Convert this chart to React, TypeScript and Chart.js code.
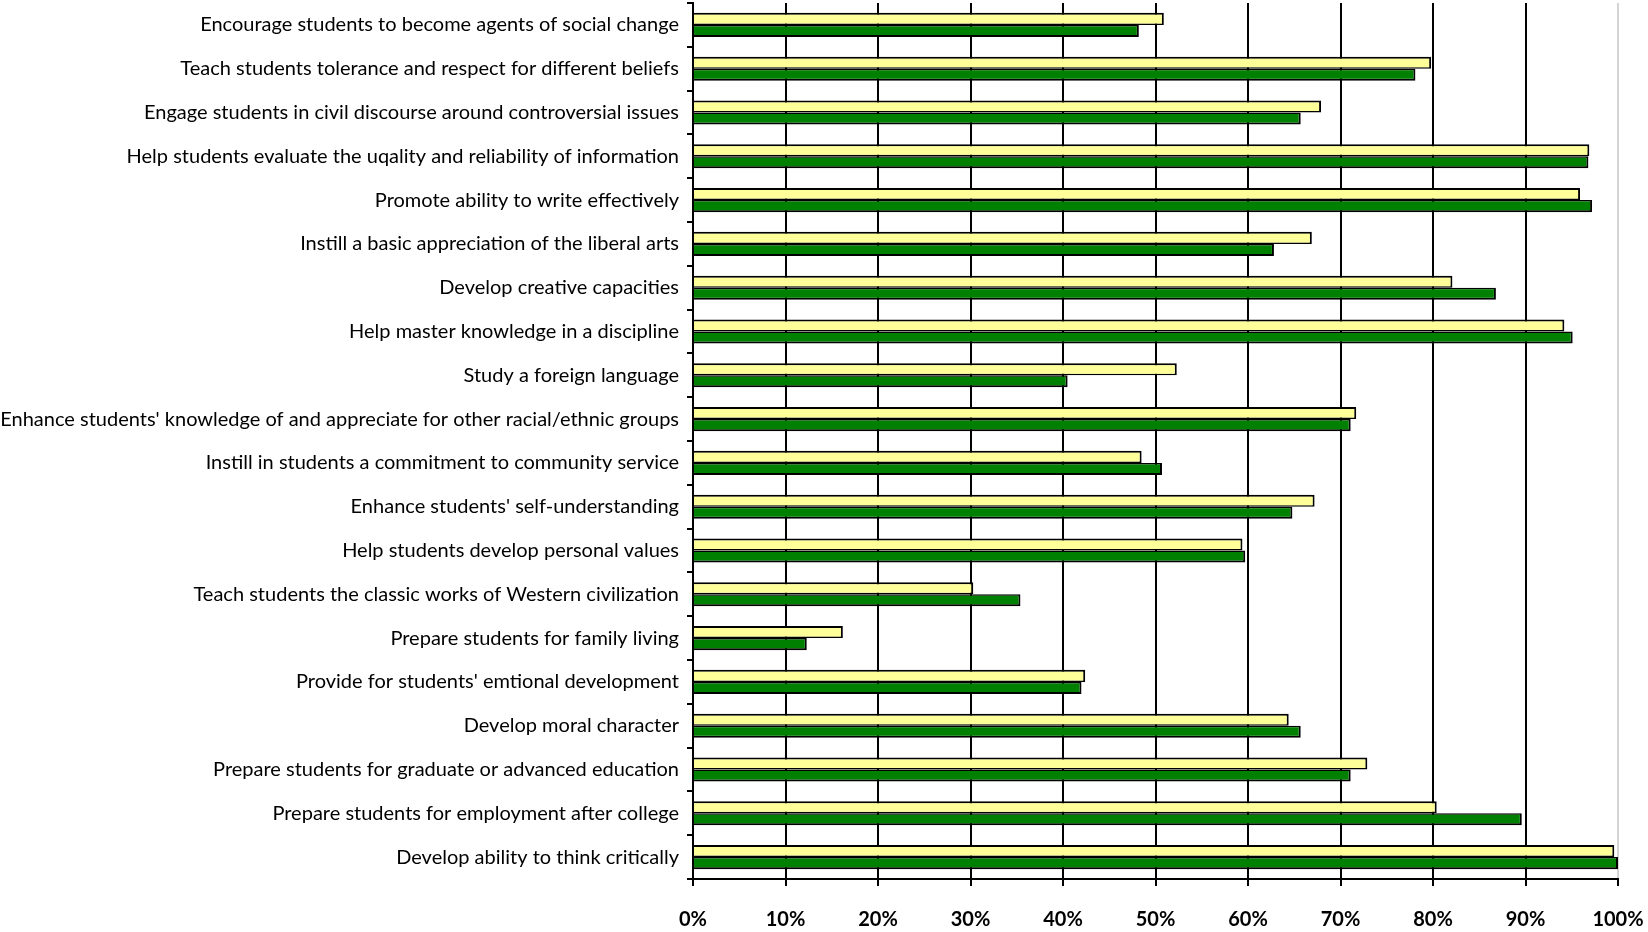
import React, { useEffect, useRef } from "react";
import { Chart, registerables } from "chart.js";

Chart.register(...registerables);

const categories: string[] = [
  "Encourage students to become agents of social change",
  "Teach students tolerance and respect for different beliefs",
  "Engage students in civil discourse around controversial issues",
  "Help students evaluate the uqality and reliability of information",
  "Promote ability to write effectively",
  "Instill a basic appreciation of the liberal arts",
  "Develop creative capacities",
  "Help master knowledge in a discipline",
  "Study a foreign language",
  "Enhance students' knowledge of and appreciate for other racial/ethnic groups",
  "Instill in students a commitment to community service",
  "Enhance students' self-understanding",
  "Help students develop personal values",
  "Teach students the classic works of Western civilization",
  "Prepare students for family living",
  "Provide for students' emtional development",
  "Develop moral character",
  "Prepare students for graduate or advanced education",
  "Prepare students for employment after college",
  "Develop ability to think critically",
];

const yellowSeries: number[] = [
  50.9, 79.8, 67.9, 96.9, 95.9, 66.9, 82.1, 94.2, 52.3, 71.7,
  48.5, 67.2, 59.4, 30.3, 16.2, 42.4, 64.4, 72.9, 80.4, 99.6,
];

const greenSeries: number[] = [
  48.2, 78.1, 65.7, 96.8, 97.2, 62.8, 86.8, 95.1, 40.5, 71.1,
  50.7, 64.8, 59.7, 35.4, 12.3, 42.0, 65.7, 71.1, 89.6, 100,
];

const xTickValues: number[] = [0, 10, 20, 30, 40, 50, 60, 70, 80, 90, 100];

export default function App() {
  const canvasRef = useRef<HTMLCanvasElement | null>(null);

  useEffect(() => {
    document.body.style.margin = "0";
    const canvas = canvasRef.current;
    if (!canvas) return;
    const chart = new Chart(canvas, {
      type: "bar",
      data: {
        labels: categories,
        datasets: [
          {
            label: "Series 1",
            data: yellowSeries,
            backgroundColor: "#FFFF99",
            borderColor: "#000000",
            borderWidth: { top: 2, right: 2, bottom: 1.5, left: 2 } as any,
            categoryPercentage: 0.55,
            barPercentage: 1,
          },
          {
            label: "Series 2",
            data: greenSeries,
            backgroundColor: "#008000",
            borderColor: "#000000",
            borderWidth: { top: 1.5, right: 2, bottom: 2, left: 2 } as any,
            categoryPercentage: 0.55,
            barPercentage: 1,
          },
        ],
      },
      options: {
        indexAxis: "y",
        animation: false,
        responsive: false,
        maintainAspectRatio: false,
        layout: { padding: { left: 0, right: 30, top: 3, bottom: 0 } },
        plugins: {
          legend: { display: false },
          tooltip: { enabled: false },
          title: { display: false },
        },
        scales: {
          x: {
            type: "linear",
            min: 0,
            max: 100,
            afterBuildTicks: (scale: any) => {
              scale.ticks = xTickValues.map((v) => ({ value: v }));
            },
            afterFit: (scale: any) => {
              scale.paddingLeft = 0;
              scale.paddingRight = 0;
              scale.height = 53;
            },
            ticks: {
              callback: (v: any) => v + "%",
              color: "#000",
              padding: 22,
              font: { family: "Lato", size: 20, weight: "bold" },
              maxRotation: 0,
            },
            grid: {
              color: (ctx: any) =>
                ctx.tick && ctx.tick.value === 100 ? "#d4d4d4" : "#000000",
              lineWidth: 2,
              drawTicks: true,
              tickLength: 7,
              tickColor: "#000000",
              tickWidth: 2,
            },
            border: { display: true, color: "#000000", width: 2 },
          },
          y: {
            type: "category",
            afterFit: (scale: any) => {
              scale.width = 693;
              scale.paddingTop = 0;
              scale.paddingBottom = 0;
            },
            ticks: {
              autoSkip: false,
              color: "#000",
              padding: 8,
              font: { family: "Lato", size: 20 },
            },
            grid: {
              drawOnChartArea: false,
              drawTicks: true,
              tickLength: 6,
              color: "#000000",
              lineWidth: 2,
            },
            border: { display: true, color: "#000000", width: 2 },
          },
        },
      },
    });
    return () => {
      chart.destroy();
    };
  }, []);

  return (
    <div style={{ position: "absolute", left: 0, top: 0, width: 1648, height: 932, background: "#fff" }}>
      <canvas ref={canvasRef} width={1648} height={932} style={{ width: 1648, height: 932, display: "block" }} />
    </div>
  );
}
